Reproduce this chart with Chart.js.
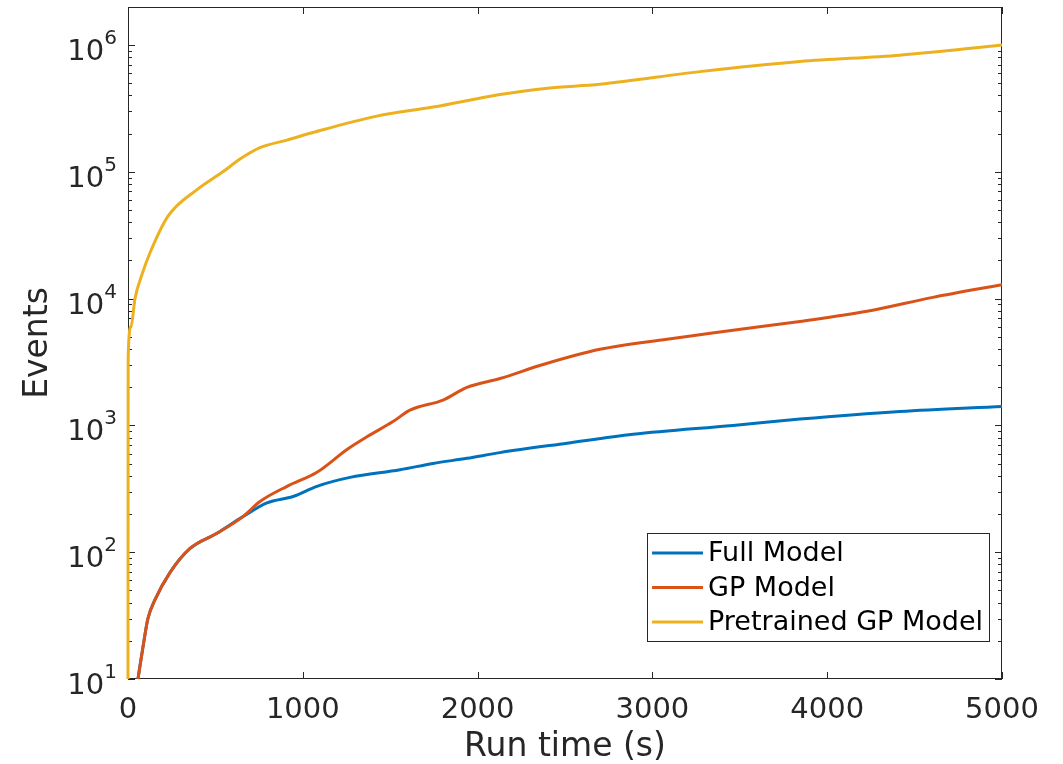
<!DOCTYPE html>
<html>
<head>
<meta charset="utf-8">
<script src="https://cdn.jsdelivr.net/npm/chart.js@4"></script>
<style>
  html, body { margin: 0; padding: 0; background: #fff; }
  #chart { display: block; }
</style>
</head>
<body>
<canvas id="chart" width="1063" height="764"></canvas>
<script>
// values (run time in s, cumulative events)
const fullTime = [57, 86, 114, 154, 240, 355, 509, 658, 795, 944, 1081, 1270, 1556, 1745, 1939, 2128, 2512, 2889, 3461, 3844, 4416, 5000];
const fullEvents = [10, 18, 30, 42, 69, 107, 141, 191, 245, 275, 331, 389, 447, 501, 550, 610, 724, 851, 1000, 1122, 1288, 1413];

const gpTime = [57, 86, 114, 154, 240, 355, 509, 658, 755, 910, 1081, 1253, 1367, 1516, 1613, 1802, 1939, 2128, 2374, 2700, 3084, 3461, 3844, 4228, 4605, 5000];
const gpEvents = [10, 18, 30, 42, 69, 107, 141, 191, 251, 331, 427, 646, 813, 1072, 1318, 1585, 1995, 2344, 3020, 3981, 4786, 5623, 6607, 7943, 10230, 12880];

const pretrainedTime = [0, 1, 17, 40, 80, 126, 229, 395, 543, 641, 755, 910, 1058, 1424, 1745, 2128, 2400, 2700, 3272, 3844, 4416, 5000];
const pretrainedEvents = [10, 3500, 6000, 10000, 15500, 23000, 44700, 72400, 100000, 126000, 155000, 178000, 204000, 275000, 324000, 407000, 457000, 490000, 617000, 741000, 832000, 1000000];

const seriesLabels = ["Full Model", "GP Model", "Pretrained GP Model"];
const seriesColors = ["#0072BD", "#D95319", "#EDB120"];

const xTicks = [0, 1000, 2000, 3000, 4000, 5000];
const yExponents = [1, 2, 3, 4, 5, 6];

const axisColor = "#262626";
const fontFamily = "'DejaVu Sans', sans-serif";
const yMin = 10;
const yMax = Math.pow(10, 6.3);

const toPoints = (xs, ys) => xs.map((x, i) => ({ x: x, y: ys[i] }));

// box, inward ticks (major + minor), 10^n labels and a legend inside the axes
const matlabAxes = {
    id: "matlabAxes",
    beforeDatasetsDraw(chart) {
        const { ctx, chartArea: a } = chart;
        const x = chart.scales.x;
        const y = chart.scales.y;
        ctx.save();
        ctx.strokeStyle = axisColor;
        ctx.lineWidth = 1;
        ctx.beginPath();
        xTicks.forEach((v) => {
            const px = Math.round(x.getPixelForValue(v)) + 0.5;
            ctx.moveTo(px, a.bottom);
            ctx.lineTo(px, a.bottom - 7);
            ctx.moveTo(px, a.top);
            ctx.lineTo(px, a.top + 7);
        });
        yExponents.forEach((e) => {
            for (let m = 1; m <= 9; m++) {
                const v = m * Math.pow(10, e);
                if (v > yMax) break;
                const len = m === 1 ? 7 : 4;
                const py = Math.round(y.getPixelForValue(v)) + 0.5;
                ctx.moveTo(a.left, py);
                ctx.lineTo(a.left + len, py);
                ctx.moveTo(a.right, py);
                ctx.lineTo(a.right - len, py);
            }
        });
        ctx.stroke();
        ctx.strokeRect(a.left + 0.5, a.top + 0.5, a.right - a.left - 1, a.bottom - a.top - 1);

        // y tick labels as 10 with a raised exponent
        ctx.fillStyle = axisColor;
        ctx.textBaseline = "alphabetic";
        yExponents.forEach((e) => {
            const py = y.getPixelForValue(Math.pow(10, e));
            const rightEdge = a.left - 11;
            ctx.font = "20px " + fontFamily;
            const expW = ctx.measureText(String(e)).width;
            ctx.textAlign = "right";
            ctx.fillText(String(e), rightEdge, py - 1);
            ctx.font = "29px " + fontFamily;
            ctx.fillText("10", rightEdge - expW, py + 15);
        });
        ctx.restore();
    },
    afterDraw(chart) {
        const { ctx, chartArea: a } = chart;
        const datasets = chart.data.datasets;
        ctx.save();
        ctx.font = "27px " + fontFamily;
        const textW = Math.max(...datasets.map((d) => ctx.measureText(d.label).width));
        const boxW = 5 + 51 + 5 + textW + 6;
        const rowH = 34.5;
        const boxH = 108;
        const right = a.right - 13;
        const bottom = a.bottom - 38;
        const left = right - boxW;
        const top = bottom - boxH;
        ctx.fillStyle = "#fff";
        ctx.fillRect(left, top, boxW, boxH);
        ctx.strokeStyle = axisColor;
        ctx.lineWidth = 1;
        ctx.strokeRect(Math.round(left) + 0.5, Math.round(top) + 0.5, Math.round(boxW), Math.round(boxH));
        datasets.forEach((d, i) => {
            const cy = top + 20 + i * rowH;
            ctx.strokeStyle = d.borderColor;
            ctx.lineWidth = 3;
            ctx.beginPath();
            ctx.moveTo(left + 5, cy);
            ctx.lineTo(left + 56, cy);
            ctx.stroke();
            ctx.fillStyle = "#000";
            ctx.textAlign = "left";
            ctx.textBaseline = "middle";
            ctx.fillText(d.label, left + 61, cy + 1);
        });
        ctx.restore();
    },
};

const ctx = document.getElementById("chart").getContext("2d");
const chart = new Chart(ctx, {
    type: "line",
    data: {
        datasets: [
            { label: seriesLabels[0], data: toPoints(fullTime, fullEvents), borderColor: seriesColors[0], order: 3 },
            { label: seriesLabels[1], data: toPoints(gpTime, gpEvents), borderColor: seriesColors[1], order: 2 },
            { label: seriesLabels[2], data: toPoints(pretrainedTime, pretrainedEvents), borderColor: seriesColors[2], order: 1 },
        ].map((d) => Object.assign(d, {
            borderWidth: 3,
            pointRadius: 0,
            cubicInterpolationMode: "monotone",
            fill: false,
            clip: 2,
        })),
    },
    options: {
        responsive: false,
        animation: false,
        devicePixelRatio: 1,
        layout: { padding: { left: 0, right: 61, top: 7, bottom: 0 } },
        plugins: {
            legend: { display: false },
            tooltip: { enabled: false },
        },
        scales: {
            x: {
                type: "linear",
                min: 0,
                max: 5000,
                grid: { display: false, drawTicks: false },
                border: { display: false },
                afterBuildTicks: (scale) => {
                    scale.ticks = xTicks.map((v) => ({ value: v }));
                },
                afterFit: (scale) => {
                    scale.height = 85;
                    scale.paddingLeft = 0;
                    scale.paddingRight = 0;
                },
                ticks: {
                    color: axisColor,
                    font: { family: fontFamily, size: 29 },
                    padding: 14,
                    maxRotation: 0,
                    callback: (v) => String(v),
                },
                title: {
                    display: true,
                    text: "Run time (s)",
                    color: axisColor,
                    font: { family: fontFamily, size: 33, lineHeight: 1 },
                    padding: { top: 0, bottom: 0 },
                },
            },
            y: {
                type: "logarithmic",
                min: yMin,
                max: yMax,
                grid: { display: false, drawTicks: false },
                border: { display: false },
                afterBuildTicks: (scale) => {
                    scale.ticks = yExponents.map((e) => ({ value: Math.pow(10, e) }));
                },
                afterFit: (scale) => {
                    scale.width = 128;
                    scale.paddingTop = 0;
                    scale.paddingBottom = 0;
                },
                ticks: { display: false },
                title: {
                    display: true,
                    text: "Events",
                    color: axisColor,
                    font: { family: fontFamily, size: 33, lineHeight: 1.2 },
                    padding: { top: 19, bottom: 0 },
                },
            },
        },
    },
    plugins: [matlabAxes],
});
</script>
</body>
</html>
